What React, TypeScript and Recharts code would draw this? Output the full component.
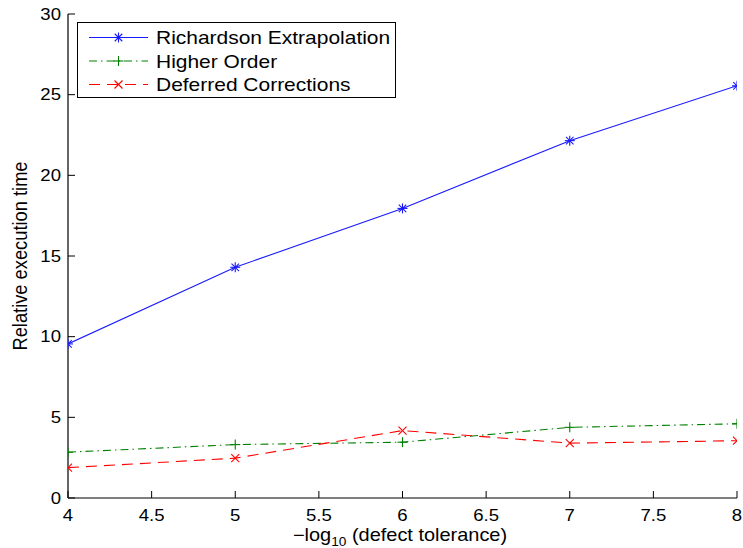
import React from 'react';
import { LineChart, Line, XAxis, YAxis, Legend, Customized } from 'recharts';

const xValues = [4, 5, 6, 7, 8];
const richardson = [9.55, 14.3, 17.95, 22.15, 25.55];
const higherOrder = [2.84, 3.31, 3.46, 4.38, 4.6];
const deferred = [1.88, 2.47, 4.18, 3.4, 3.55];
const xTicks = [4, 4.5, 5, 5.5, 6, 6.5, 7, 7.5, 8];
const yTicks = [0, 5, 10, 15, 20, 25, 30];
const seriesNames = ['Richardson Extrapolation', 'Higher Order', 'Deferred Corrections'];

const data = xValues.map((x, i) => ({
  x,
  richardson: richardson[i],
  higherOrder: higherOrder[i],
  deferred: deferred[i],
}));

const FONT = '"Liberation Sans", Arial, Helvetica, sans-serif';
const SX = 1.14;
const TICK = 7;

const BLUE = '#1a1aff';
const GREEN = '#008000';
const RED = '#ff0000';

const Star = ({ cx, cy, color }: any) => {
  const r = 5;
  const d = r * 0.75;
  return (
    <g stroke={color} strokeWidth={1.1}>
      <line x1={cx - r} y1={cy} x2={cx + r} y2={cy} />
      <line x1={cx} y1={cy - r} x2={cx} y2={cy + r} />
      <line x1={cx - d} y1={cy - d} x2={cx + d} y2={cy + d} />
      <line x1={cx - d} y1={cy + d} x2={cx + d} y2={cy - d} />
    </g>
  );
};
const Plus = ({ cx, cy, color }: any) => {
  const r = 5;
  return (
    <g stroke={color} strokeWidth={1.1}>
      <line x1={cx - r} y1={cy} x2={cx + r} y2={cy} />
      <line x1={cx} y1={cy - r} x2={cx} y2={cy + r} />
    </g>
  );
};
const Cross = ({ cx, cy, color }: any) => {
  const r = 4;
  return (
    <g stroke={color} strokeWidth={1.1}>
      <line x1={cx - r} y1={cy - r} x2={cx + r} y2={cy + r} />
      <line x1={cx - r} y1={cy + r} x2={cx + r} y2={cy - r} />
    </g>
  );
};

const BottomTick = ({ x, y, payload }: any) => (
  <g>
    <line x1={x} x2={x} y1={y} y2={y - TICK} stroke="#000" />
    <text
      transform={`translate(${x},${y + 23}) scale(${SX},1)`}
      textAnchor="middle"
      fontFamily={FONT}
      fontSize={16.3}
      fill="#000"
    >
      {String(payload.value)}
    </text>
  </g>
);
const TopTick = ({ x, y }: any) => (
  <line x1={x} x2={x} y1={y} y2={y + TICK} stroke="#000" />
);
const LeftTick = ({ x, y, payload }: any) => (
  <g>
    <line x1={x} x2={x + TICK} y1={y} y2={y} stroke="#000" />
    <text
      transform={`translate(${x - 7},${y + 5.8}) scale(${SX},1)`}
      textAnchor="end"
      fontFamily={FONT}
      fontSize={16.3}
      fill="#000"
    >
      {String(payload.value)}
    </text>
  </g>
);
const RightTick = ({ x, y }: any) => (
  <line x1={x} x2={x - TICK} y1={y} y2={y} stroke="#000" />
);

const LegendBox = () => {
  const rows = [
    { name: seriesNames[0], color: BLUE, dash: undefined, M: Star },
    { name: seriesNames[1], color: GREEN, dash: '8 4 1.5 4', M: Plus },
    { name: seriesNames[2], color: RED, dash: '11 7', M: Cross },
  ];
  return (
    <svg width={320} height={77} style={{ display: 'block' }}>
      <rect x={0.5} y={0.5} width={318} height={75} fill="#fff" stroke="#000" strokeWidth={1} />
      {rows.map((r, i) => {
        const cy = 15.5 + i * 23.5;
        const M = r.M;
        return (
          <g key={r.name}>
            <line x1={12} x2={71} y1={cy} y2={cy} stroke={r.color} strokeWidth={1} strokeDasharray={r.dash} />
            <M cx={41.5} cy={cy} color={r.color} />
            <text
              transform={`translate(79,${cy + 6.5}) scale(1.165,1)`}
              fontFamily={FONT}
              fontSize={18}
              fill="#000"
            >
              {r.name}
            </text>
          </g>
        );
      })}
    </svg>
  );
};

const AxisLabels = () => (
  <g fontFamily={FONT} fill="#000">
    <text transform={`translate(27,256) scale(${SX},1) rotate(-90)`} textAnchor="middle" fontSize={18.3}>
      Relative execution time
    </text>
    <text transform={`translate(400,541) scale(${SX},1)`} textAnchor="middle" fontSize={17.5}>
      <tspan>−log</tspan>
      <tspan dy={5} fontSize={12}>10</tspan>
      <tspan dy={-5}> (defect tolerance)</tspan>
    </text>
  </g>
);

export default function App() {
  return (
    <div style={{ position: 'absolute', left: 0, top: 0, background: '#fff' }}>
      <LineChart
        width={743}
        height={548}
        data={data}
        margin={{ top: 14, right: 6, bottom: 0, left: 0 }}
      >
        <XAxis
          dataKey="x"
          type="number"
          domain={[4, 8]}
          ticks={xTicks}
          height={50}
          tickSize={0}
          tickMargin={0}
          tickLine={false}
          axisLine={{ stroke: '#000', strokeWidth: 1.2 }}
          tick={<BottomTick />}
          interval={0}
          allowDataOverflow
        />
        <XAxis
          xAxisId="top"
          orientation="top"
          dataKey="x"
          type="number"
          domain={[4, 8]}
          ticks={xTicks}
          height={0}
          tickSize={0}
          tickMargin={0}
          tickLine={false}
          axisLine={{ stroke: '#000', strokeWidth: 1.2 }}
          tick={<TopTick />}
          interval={0}
          allowDataOverflow
        />
        <YAxis
          type="number"
          domain={[0, 30]}
          ticks={yTicks}
          width={68}
          tickSize={0}
          tickMargin={0}
          tickLine={false}
          axisLine={{ stroke: '#000', strokeWidth: 1.2 }}
          tick={<LeftTick />}
          interval={0}
          allowDataOverflow
        />
        <YAxis
          yAxisId="right"
          orientation="right"
          type="number"
          domain={[0, 30]}
          ticks={yTicks}
          width={0}
          tickSize={0}
          tickMargin={0}
          tickLine={false}
          axisLine={{ stroke: '#000', strokeWidth: 1.2 }}
          tick={<RightTick />}
          interval={0}
          allowDataOverflow
        />
        <Line
          dataKey="richardson"
          name={seriesNames[0]}
          stroke={BLUE}
          strokeWidth={1.1}
          isAnimationActive={false}
          dot={(p: any) => <Star key={`s${p.index}`} cx={p.cx} cy={p.cy} color={BLUE} />}
          activeDot={false}
        />
        <Line
          dataKey="higherOrder"
          name={seriesNames[1]}
          stroke={GREEN}
          strokeWidth={1.1}
          strokeDasharray="8 4 1.5 4"
          isAnimationActive={false}
          dot={(p: any) => <Plus key={`p${p.index}`} cx={p.cx} cy={p.cy} color={GREEN} />}
          activeDot={false}
        />
        <Line
          dataKey="deferred"
          name={seriesNames[2]}
          stroke={RED}
          strokeWidth={1.1}
          strokeDasharray="11 7"
          isAnimationActive={false}
          dot={(p: any) => <Cross key={`c${p.index}`} cx={p.cx} cy={p.cy} color={RED} />}
          activeDot={false}
        />
        <Legend
          layout="horizontal"
          verticalAlign="middle"
          align="center"
          wrapperStyle={{ left: 77, top: 22, width: 320, height: 77, right: 'auto', bottom: 'auto' }}
          content={() => <LegendBox />}
        />
        <Customized component={AxisLabels} />
      </LineChart>
    </div>
  );
}
